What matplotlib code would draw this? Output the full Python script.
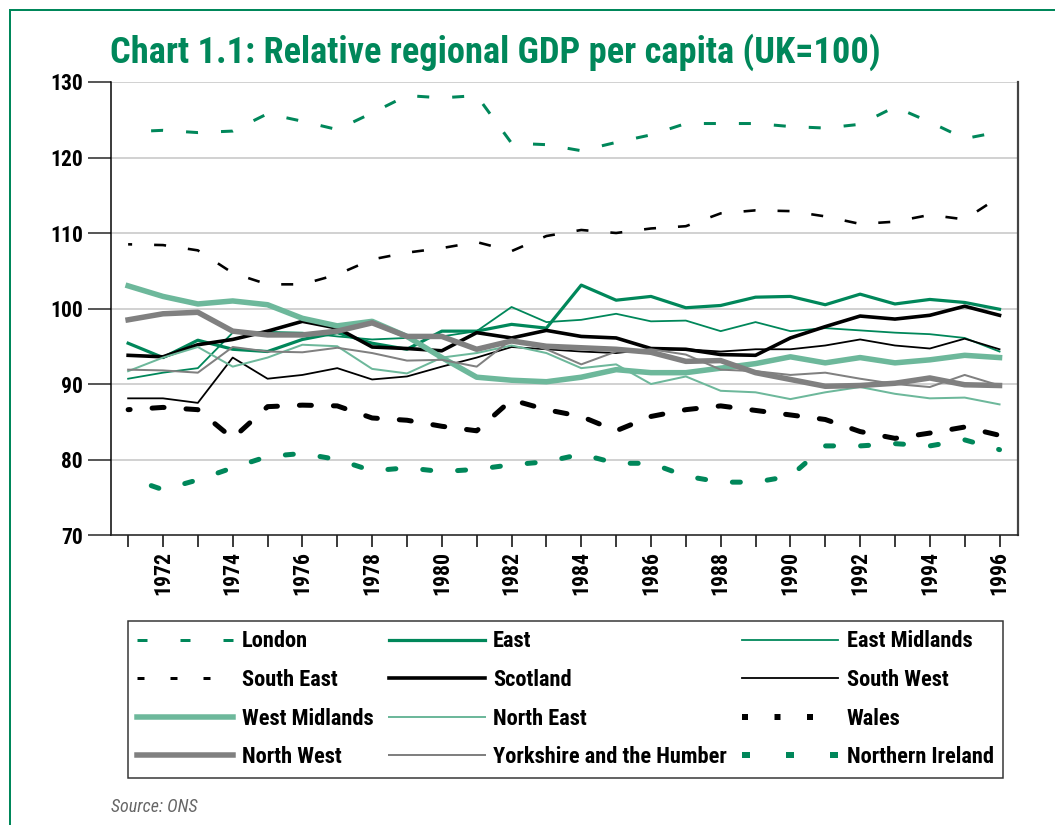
import matplotlib
matplotlib.use("Agg")
import matplotlib.pyplot as plt
from matplotlib.lines import Line2D
from matplotlib import font_manager as fm

years = list(range(1971, 1997))

london = [123.4, 123.6, 123.3, 123.5, 125.8, 124.8, 123.7, 125.9, 128.2, 127.9, 128.2, 121.9, 121.7,
          120.9, 122.0, 123.0, 124.5, 124.5, 124.5, 124.1, 123.9, 124.4, 126.7, 124.7, 122.5, 123.4]
south_east = [108.5, 108.4, 107.7, 104.7, 103.2, 103.2, 104.5, 106.5, 107.4, 108.0, 108.8, 107.6, 109.6,
              110.4, 110.0, 110.6, 110.9, 112.6, 113.0, 112.9, 112.2, 111.2, 111.5, 112.4, 111.8, 114.8]
east = [95.4, 93.5, 95.8, 94.6, 94.3, 95.9, 96.8, 95.4, 94.6, 97.0, 97.0, 97.9, 97.4,
        103.1, 101.1, 101.6, 100.1, 100.4, 101.5, 101.6, 100.5, 101.9, 100.6, 101.2, 100.8, 99.9]
east_midlands = [90.7, 91.5, 92.1, 96.8, 96.9, 96.8, 96.3, 95.9, 96.1, 96.3, 97.0, 100.2, 98.2,
                 98.5, 99.3, 98.3, 98.4, 97.0, 98.2, 97.0, 97.4, 97.1, 96.8, 96.6, 96.1, 94.3]
scotland = [93.8, 93.6, 95.2, 95.9, 97.0, 98.3, 97.4, 94.9, 94.7, 94.4, 96.8, 96.1, 97.1,
            96.3, 96.1, 94.7, 94.6, 93.9, 93.8, 96.1, 97.6, 99.0, 98.6, 99.1, 100.3, 99.1]
south_west = [88.1, 88.1, 87.5, 93.5, 90.7, 91.2, 92.1, 90.6, 91.0, 92.3, 93.5, 94.9, 94.6,
              94.3, 94.1, 94.6, 94.6, 94.3, 94.6, 94.6, 95.1, 95.9, 95.1, 94.7, 96.0, 94.6]
west_midlands = [103.0, 101.6, 100.6, 101.0, 100.5, 98.7, 97.7, 98.3, 96.3, 93.5, 90.9, 90.5, 90.3,
                 90.9, 91.9, 91.5, 91.5, 92.1, 92.7, 93.6, 92.8, 93.5, 92.8, 93.2, 93.8, 93.5]
north_east = [91.7, 93.5, 94.9, 92.3, 93.5, 95.2, 95.0, 92.0, 91.4, 93.5, 94.1, 95.1, 94.1,
              92.1, 92.6, 90.0, 91.0, 89.1, 88.9, 88.0, 88.9, 89.6, 88.7, 88.1, 88.2, 87.3]
wales = [86.6, 86.9, 86.6, 82.8, 87.0, 87.2, 87.1, 85.5, 85.2, 84.4, 83.8, 87.9, 86.6,
         85.7, 83.8, 85.7, 86.6, 87.1, 86.5, 85.9, 85.3, 83.7, 82.8, 83.5, 84.3, 83.2]
north_west = [98.5, 99.3, 99.5, 97.0, 96.5, 96.5, 97.0, 98.1, 96.3, 96.3, 94.6, 95.7, 95.0,
              94.8, 94.6, 94.2, 93.0, 93.1, 91.5, 90.6, 89.7, 89.8, 90.1, 90.8, 89.9, 89.8]
yorkshire = [91.9, 91.8, 91.5, 94.9, 94.3, 94.2, 94.8, 94.1, 93.1, 93.2, 92.3, 95.9, 94.6,
             92.6, 94.3, 94.6, 93.9, 91.9, 91.7, 91.2, 91.5, 90.7, 90.0, 89.6, 91.2, 89.8]
northern_ireland = [77.6, 76.0, 77.3, 78.9, 80.4, 80.8, 80.0, 78.5, 78.9, 78.4, 78.7, 79.3, 79.7,
                    80.7, 79.5, 79.5, 77.8, 77.0, 77.0, 77.8, 81.8, 81.8, 82.1, 81.8, 82.6, 81.3]

y_ticks = [70, 80, 90, 100, 110, 120, 130]
x_label_years = list(range(1972, 1997, 2))

title = "Chart 1.1: Relative regional GDP per capita (UK=100)"
source = "Source: ONS"

# ---- fonts: prefer a narrow/condensed family ----
names = {f.name for f in fm.fontManager.ttflist}
FONT = 'DejaVu Sans'
for cand in ['Roboto Condensed', 'Liberation Sans Narrow', 'Open Sans Condensed',
             'Noto Sans Condensed', 'DejaVu Sans Condensed', 'Roboto', 'Lato']:
    if cand in names:
        FONT = cand
        break
plt.rcParams['font.family'] = [FONT, 'DejaVu Sans']
plt.rcParams['lines.scale_dashes'] = False

DG = '#00875A'
LG = '#6DB89B'
GR = '#808080'
PX = 0.72  # points per pixel at dpi 100

fig = plt.figure(figsize=(10.55, 8.25), dpi=100)
W, H = 1055, 825
renderer = fig.canvas.get_renderer()


def fit_size(text, target_px, base=20, **kw):
    t = fig.text(0, 0, text, fontsize=base, **kw)
    w = t.get_window_extent(renderer).width
    t.remove()
    return base * target_px / w


ax = fig.add_axes([110.7 / W, 1 - 535 / H, (1018 - 110.7) / W, (535 - 82) / H])


def ls(offset_px, on_px, off_px):
    return (offset_px * PX, (on_px * PX, off_px * PX))


series = [
    ("London", london, dict(color=DG, lw=3 * PX, linestyle=ls(12, 12, 23), dash_capstyle='butt')),
    ("East", east, dict(color=DG, lw=3.2 * PX)),
    ("East Midlands", east_midlands, dict(color=DG, lw=1.8 * PX)),
    ("South East", south_east, dict(color='black', lw=2.6 * PX, linestyle=ls(8, 12, 22), dash_capstyle='butt')),
    ("Scotland", scotland, dict(color='black', lw=3.6 * PX)),
    ("South West", south_west, dict(color='black', lw=1.8 * PX)),
    ("West Midlands", west_midlands, dict(color=LG, lw=5.5 * PX)),
    ("North East", north_east, dict(color=LG, lw=2.0 * PX)),
    ("Wales", wales, dict(color='black', lw=5 * PX, linestyle=ls(10, 12, 22), dash_capstyle='round')),
    ("North West", north_west, dict(color=GR, lw=5.5 * PX)),
    ("Yorkshire and the Humber", yorkshire, dict(color=GR, lw=2.0 * PX)),
    ("Northern Ireland", northern_ireland, dict(color=DG, lw=5 * PX, linestyle=ls(10.5, 8, 27), dash_capstyle='round')),
]

# legend-only styles for the dashed series (keys look like short blocks)
legend_styles = {
    "London": dict(color=DG, lw=3 * PX, linestyle=ls(0, 10, 33), dash_capstyle='butt'),
    "South East": dict(color='black', lw=3 * PX, linestyle=ls(0, 7, 26), dash_capstyle='butt'),
    "Wales": dict(color='black', lw=6 * PX, linestyle=ls(0, 6, 26.5), dash_capstyle='butt'),
    "Northern Ireland": dict(color=DG, lw=6 * PX, linestyle=ls(0, 8, 36), dash_capstyle='butt'),
}

handles = {}
for name, vals, kw in series:
    (ln,) = ax.plot(years, vals, label=name, solid_joinstyle='round', **kw)
    if name in legend_styles:
        handles[name] = Line2D([], [], **legend_styles[name])
    else:
        handles[name] = ln

ax.set_xlim(1970.5, 1996.53)
ax.set_ylim(70, 130)

for v in y_ticks[1:]:
    ax.axhline(v, color='#c8c8c8', lw=1.6 * PX, zorder=0)

ax.spines['top'].set_visible(False)
ax.spines['left'].set_color('black')
ax.spines['left'].set_linewidth(1.5 * PX)
ax.spines['bottom'].set_color('#222222')
ax.spines['bottom'].set_linewidth(1.6 * PX)
ax.spines['right'].set_color('#444444')
ax.spines['right'].set_linewidth(2.2 * PX)

ax.set_yticks(y_ticks)
ax.set_yticklabels([str(v) for v in y_ticks], fontsize=15.5, fontweight='bold')
ax.tick_params(axis='y', direction='out', length=23 * PX, width=1.5 * PX, color='#222222', pad=5 * PX)

xtick_fs = min(16, fit_size("1972", 44, fontweight='bold'))
ax.set_xticks(years)
ax.set_xticklabels([str(y) if y in x_label_years else "" for y in years],
                   rotation=90, fontsize=xtick_fs, fontweight='bold', va='top', ha='center')
ax.tick_params(axis='x', direction='out', length=12 * PX, width=1.5 * PX, color='black', pad=4 * PX)

# title
title_fs = fit_size(title, 767, fontweight='bold')
fig.text(110 / W, 1 - 63 / H, title, fontsize=title_fs, fontweight='bold', color=DG,
         ha='left', va='baseline')

# green frame (top and left)
fig.add_artist(Line2D([10 / W, 1.0], [1 - 10 / H, 1 - 10 / H], color=DG, lw=2 * PX))
fig.add_artist(Line2D([10 / W, 10 / W], [0, 1 - 10 / H], color=DG, lw=2 * PX))

# legend (row-major order displayed across 3 columns)
order = ["London", "South East", "West Midlands", "North West",
         "East", "Scotland", "North East", "Yorkshire and the Humber",
         "East Midlands", "South West", "Wales", "Northern Ireland"]
leg_fs = 1.05 * fit_size("Yorkshire and the Humber", 222, fontweight='bold')
leg = fig.legend([handles[n] for n in order], order, ncol=3, loc='upper left',
                 bbox_to_anchor=(128 / W, 1 - 779 / H, (1003 - 128) / W, (779 - 621) / H),
                 mode='expand', borderaxespad=0, fancybox=False, framealpha=1,
                 edgecolor='#333333', handlelength=96 * PX / leg_fs, handletextpad=0.38,
                 labelspacing=0.74, borderpad=0.42, columnspacing=0.6,
                 prop=dict(family=[FONT, 'DejaVu Sans'], weight='bold', size=leg_fs))
leg.get_frame().set_linewidth(1.5 * PX)

fig.text(110.6 / W, 1 - 812 / H, source, fontsize=13, style='italic', color='#666666',
         ha='left', va='baseline')

fig.savefig("out.png", dpi=100)
